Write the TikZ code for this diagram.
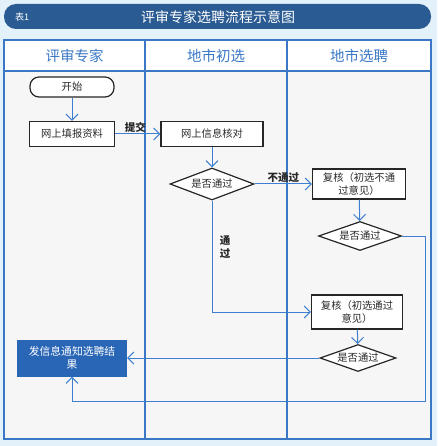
\documentclass[tikz,border=0pt]{standalone}
\usepackage{fontspec}
\setmainfont{Noto Sans CJK SC}
\usetikzlibrary{shapes.geometric,arrows.meta}
\definecolor{bgblue}{HTML}{E2F1FA}
\definecolor{titleblue}{HTML}{2B5B93}
\definecolor{laneblue}{HTML}{3A78C6}
\definecolor{connblue}{HTML}{3E80CF}
\definecolor{resblue}{HTML}{2A66B6}
\definecolor{bodygray}{HTML}{F6F6F6}
\definecolor{txt}{HTML}{2A2A2A}
\tikzset{
  box/.style={draw=black!85, line width=1.2pt, fill=white, text=txt, font=\fontsize{10.3}{12.5}\selectfont, inner sep=1pt, align=center},
  dia/.style={diamond, draw=black!85, line width=1.2pt, fill=white, text=txt, font=\fontsize{10.3}{12.5}\selectfont, inner sep=0pt, aspect=2.6},
  conn/.style={draw=connblue, line width=1pt, -{Straight Barb[length=6pt,width=12pt,line width=1pt]}},
  lbl/.style={font=\fontsize{10.5}{12}\selectfont\bfseries, text=black!85, inner sep=1pt},
  head/.style={font=\fontsize{14.5}{16}\selectfont, text=laneblue}
}
\begin{document}
\begin{tikzpicture}[x=1pt,y=-1pt]
\fill[bgblue] (0,0) rectangle (437,446);
\useasboundingbox (0,0) rectangle (437,446);
% title bar
\fill[titleblue, rounded corners=12pt] (4,4) rectangle (431,29);
\node[text=white, font=\fontsize{9}{10}\selectfont] (tab) at (22,17) {表1};
\node[text=white, font=\fontsize{14}{15}\selectfont] (title) at (218,17) {评审专家选聘流程示意图};
% table
\fill[white] (4,40) rectangle (431,71);
\fill[bodygray] (4,71) rectangle (431,439);
\draw[laneblue, line width=1.2pt] (4,40) rectangle (431,439);
\draw[laneblue, line width=1.2pt] (4,71) -- (431,71);
\draw[laneblue, line width=1.2pt] (145,40) -- (145,439);
\draw[laneblue, line width=1.2pt] (287,40) -- (287,439);
\node[head] (h1) at (74.5,56) {评审专家};
\node[head] (h2) at (216,56) {地市初选};
\node[head] (h3) at (359,56) {地市选聘};
% nodes
\node[box, rounded corners=9pt, minimum width=84pt, minimum height=20pt] (start) at (72,87) {开始};
\node[box, minimum width=85pt, minimum height=25pt] (fill) at (72,134) {网上填报资料};
\node[box, minimum width=102pt, minimum height=25pt] (check) at (212,134) {网上信息核对};
\node[dia, minimum width=84pt, minimum height=32pt] (d1) at (212,184) {是否通过};
\node[box, minimum width=93pt, minimum height=30pt] (re1) at (359,184) {复核（初选不通\\过意见）};
\node[dia, minimum width=83pt, minimum height=29pt] (d2) at (360,236) {是否通过};
\node[box, minimum width=91pt, minimum height=34pt] (re2) at (357,312) {复核（初选通过\\意见）};
\node[dia, minimum width=76pt, minimum height=27pt] (d3) at (358,358) {是否通过};
\node[fill=resblue, text=white, minimum width=110pt, minimum height=37pt, align=center, inner sep=1pt, font=\fontsize{10.8}{13.5}\selectfont] (res) at (72,358) {发信息通知选聘结\\果};
% connectors
\draw[conn] (start) -- (fill);
\draw[conn] (fill) -- node[lbl, above, pos=0.45] (tj) {提交} (check);
\draw[conn] (check) -- (d1);
\draw[conn] (d1) -- node[lbl, above, pos=0.5] (btg) {不通过} (re1);
\draw[conn] (re1) -- (d2);
\draw[conn] (d1.south) |- (re2.west);
\node[lbl, align=center, font=\fontsize{10.5}{13.5}\selectfont\bfseries] (tg) at (225,247) {通\\过};
\draw[conn] (re2) -- (d3);
\draw[conn] (d3.west) -- (res.east);
\coordinate (rb) at (425,401);
\draw[conn] (d2.east) -| (rb) -| (res.south);
\end{tikzpicture}
\end{document}
